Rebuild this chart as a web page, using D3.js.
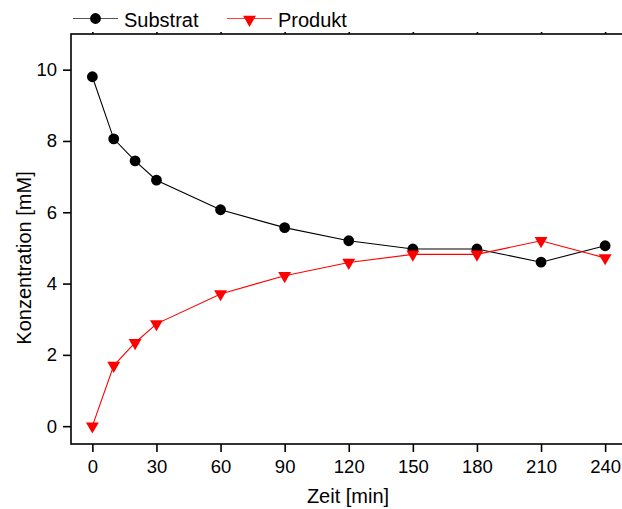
<!DOCTYPE html>
<html><head><meta charset="utf-8">
<script src="https://cdn.jsdelivr.net/npm/d3@7"></script>
<style>body{margin:0;background:#fff}svg{display:block}text{font-family:"Liberation Sans",Arial,sans-serif}</style>
</head><body><svg id="c" width="622" height="509"></svg>
<script>
const times = [0, 10, 20, 30, 60, 90, 120, 150, 180, 210, 240];
const substrat = [9.8, 8.06, 7.44, 6.9, 6.07, 5.57, 5.2, 4.97, 4.97, 4.6, 5.06];
const produkt = [0, 1.7, 2.34, 2.87, 3.71, 4.22, 4.59, 4.82, 4.82, 5.2, 4.72];
const xTicks = [0, 30, 60, 90, 120, 150, 180, 210, 240];
const yTicks = [0, 2, 4, 6, 8, 10];
const seriesNames = ["Substrat", "Produkt"];

const svg = d3.select("#c");
const x = d3.scaleLinear().domain([-10, 250]).range([71, 626.5]);
const y = d3.scaleLinear().domain([-0.5, 11]).range([444, 34]);

// frame
svg.append("rect").attr("x", x(-10)).attr("y", y(11)).attr("width", x(250)-x(-10)).attr("height", y(-0.5)-y(11))
  .attr("fill", "none").attr("stroke", "#000").attr("stroke-width", 1.6);

const ax = svg.append("g").attr("transform", `translate(0,${y(-0.5)})`)
  .call(d3.axisBottom(x).tickValues(xTicks).tickSize(8).tickPadding(8).tickFormat(d3.format("d")));
const ay = svg.append("g").attr("transform", `translate(${x(-10)},0)`)
  .call(d3.axisLeft(y).tickValues(yTicks).tickSize(8).tickPadding(6).tickFormat(d3.format("d")));
const at = svg.append("g").attr("transform", `translate(0,${y(11)})`)
  .call(d3.axisTop(x).tickValues(xTicks).tickSize(2).tickFormat(""));
[ax, ay, at].forEach(g => {
  g.select(".domain").remove();
  g.selectAll("line").attr("stroke", "#000").attr("stroke-width", 1.6);
  g.selectAll("text").attr("fill", "#000").style("font-size", "18.5px").style("font-family", '"Liberation Sans", Arial, sans-serif');
});

// titles
svg.append("text").attr("x", 348).attr("y", 503).attr("text-anchor", "middle").style("font-size", "20px").text("Zeit [min]");
svg.append("text").attr("transform", "translate(31,258) rotate(-90)").attr("text-anchor", "middle").style("font-size", "20px").text("Konzentration [mM]");

const line = d3.line().x((d,i) => x(times[i])).y(d => y(d));
const sym = [d3.symbol().type(d3.symbolCircle).size(92), d3.symbol().type(d3.symbolTriangle).size(72)];
const colors = ["#000000", "#ff0000"];
const data = [substrat, produkt];

data.forEach((vals, k) => {
  svg.append("path").attr("d", line(vals)).attr("fill", "none").attr("stroke", colors[k]).attr("stroke-width", 1.1);
  svg.append("g").selectAll("path").data(vals).join("path")
    .attr("d", sym[k]())
    .attr("transform", (d,i) => `translate(${x(times[i])},${y(d)})` + (k===1 ? " rotate(180)" : ""))
    .attr("fill", colors[k]);
});

// legend
const legX = [73, 227];
seriesNames.forEach((n, k) => {
  const g = svg.append("g").attr("transform", `translate(${legX[k]},18.5)`);
  g.append("line").attr("x1", 0).attr("x2", 45).attr("stroke", k===0 ? "#555" : "#ff4040").attr("stroke-width", 1.2);
  g.append("path").attr("d", sym[k]()).attr("transform", `translate(22.5,${k===1?1:0})` + (k===1 ? " rotate(180)" : "")).attr("fill", colors[k]);
  g.append("text").attr("x", 51).attr("y", 8).style("font-size", "20px").text(n);
});
</script></body></html>
